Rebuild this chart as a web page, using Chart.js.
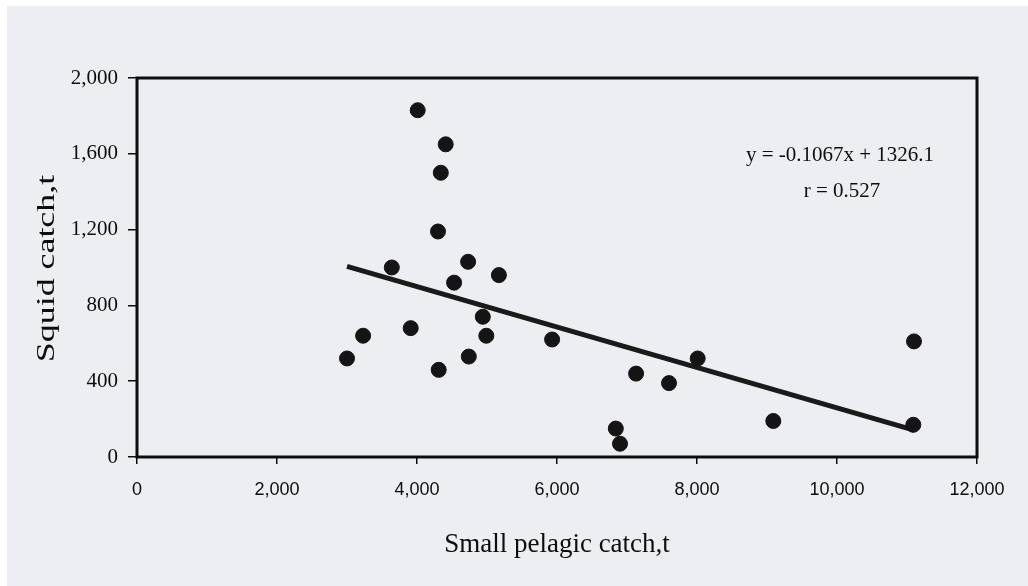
<!DOCTYPE html>
<html>
<head>
<meta charset="utf-8">
<script src="https://cdn.jsdelivr.net/npm/chart.js@4"></script>
<style>
  html, body { margin: 0; padding: 0; background: #ffffff; }
  #wrap { width: 1028px; height: 586px; }
</style>
</head>
<body>
<div id="wrap"><canvas id="c" width="1028" height="586"></canvas></div>
<script>
/* data */
const pelagic = [3000, 3230, 3640, 3910, 4010, 4410, 4340, 4300, 4310, 4530, 4730, 4740,
                 4940, 4990, 5170, 5930, 7130, 7600, 8010, 6840, 6900, 9090, 11100, 11090];
const squid = [520, 640, 1000, 680, 1830, 1650, 1500, 1190, 460, 920, 1030, 530,
               740, 640, 960, 620, 440, 390, 520, 150, 70, 190, 610, 170];

/* trend line from the printed equation */
const slope = -0.1067;
const intercept = 1326.1;
const trendX = [3000, 11100];
const eqLines = ["y = -0.1067x + 1326.1", "r = 0.527"];
const yTitle = "Squid catch,t";
const xTitle = "Small pelagic catch,t";

const points = pelagic.map((x, i) => ({ x: x, y: squid[i] }));
const trend = trendX.map(x => ({ x: x, y: slope * x + intercept }));

const serif = "'Liberation Serif', 'DejaVu Serif', serif";
const sans = "'Liberation Sans', Arial, sans-serif";
const ink = "#0d0d0d";

// paper background, plot frame, equation and the (tall, scanned) y title
const paper = {
  id: "paper",
  beforeDraw(chart) {
    const ctx = chart.ctx;
    ctx.save();
    ctx.fillStyle = "#eceef1";
    ctx.fillRect(7, 6, chart.width - 7, chart.height - 6);
    ctx.restore();
  },
  afterDatasetsDraw(chart) {
    const { ctx, chartArea: a } = chart;
    ctx.save();
    ctx.strokeStyle = ink;
    ctx.lineWidth = 3;
    ctx.strokeRect(a.left, a.top, a.right - a.left, a.bottom - a.top);
    ctx.fillStyle = ink;
    ctx.font = "21px " + serif;
    ctx.textAlign = "center";
    ctx.textBaseline = "middle";
    ctx.fillText(eqLines[0], 840, 155);
    ctx.fillText(eqLines[1], 842, 191);

    ctx.translate(47, (a.top + a.bottom) / 2 + 1);
    ctx.rotate(-Math.PI / 2);
    ctx.scale(1.38, 1);
    ctx.font = "26px " + serif;
    ctx.fillText(yTitle, 0, 0);
    ctx.restore();
  }
};

new Chart(document.getElementById("c"), {
  type: "scatter",
  data: {
    datasets: [
      {
        data: points,
        backgroundColor: "#141414",
        borderColor: "#141414",
        pointRadius: 7.5,
        pointHoverRadius: 7.5
      },
      {
        type: "line",
        data: trend,
        borderColor: "#1a1a1a",
        borderWidth: 5,
        pointRadius: 0,
        fill: false
      }
    ]
  },
  plugins: [paper],
  options: {
    responsive: false,
    animation: false,
    events: [],
    layout: { padding: { left: 30, top: 78, right: 51, bottom: 14 } },
    plugins: { legend: { display: false }, tooltip: { enabled: false } },
    scales: {
      x: {
        type: "linear",
        min: 0,
        max: 12000,
        afterFit: s => { s.height = 586 - 457 - 14; },
        ticks: {
          stepSize: 2000,
          color: ink,
          padding: 15,
          font: { family: sans, size: 18 },
          callback: v => v.toLocaleString("en-US")
        },
        grid: { display: true, drawOnChartArea: false, drawTicks: true, tickLength: 7, color: ink, lineWidth: 1.5 },
        border: { display: false },
        title: {
          display: true,
          text: xTitle,
          color: ink,
          font: { family: serif, size: 27 },
          padding: { top: 0, bottom: 11 }
        }
      },
      y: {
        min: 0,
        max: 2000,
        afterFit: s => { s.width = 137 - 30; },
        ticks: {
          stepSize: 400,
          color: ink,
          padding: 10,
          font: { family: serif, size: 21 },
          callback: v => v.toLocaleString("en-US")
        },
        grid: { display: true, drawOnChartArea: false, drawTicks: true, tickLength: 9, color: ink, lineWidth: 1.5 },
        border: { display: false },
        title: { display: false }
      }
    }
  }
});
</script>
</body>
</html>
